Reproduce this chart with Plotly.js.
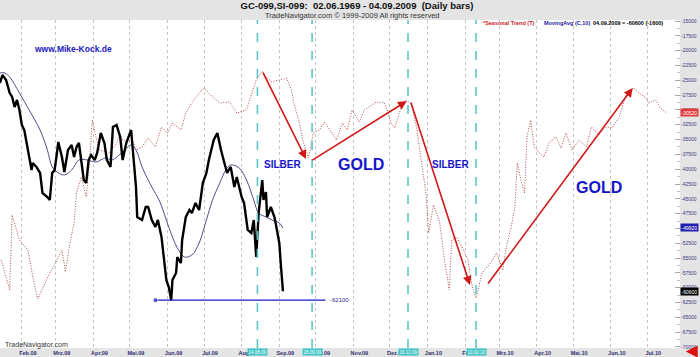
<!DOCTYPE html>
<html>
<head>
<meta charset="utf-8">
<script src="https://cdn.plot.ly/plotly-3.0.1.min.js"></script>
<style>html,body{margin:0;padding:0;background:#e4e4e4;}#chart{width:700px;height:357px;}</style>
</head>
<body>
<div id="chart"></div>
<script>
// ---- data ----
const priceDates = ['2009-01-14','2009-01-16','2009-01-19','2009-01-22','2009-01-24','2009-01-26','2009-01-28','2009-01-30',
'2009-02-01','2009-02-03','2009-02-06','2009-02-09','2009-02-10','2009-02-13','2009-02-16','2009-02-18','2009-02-22','2009-02-24','2009-02-26','2009-02-28',
'2009-03-02','2009-03-03','2009-03-06','2009-03-08','2009-03-11','2009-03-14','2009-03-16','2009-03-18','2009-03-20','2009-03-22','2009-03-24','2009-03-26','2009-03-28','2009-03-30',
'2009-04-02','2009-04-04','2009-04-07','2009-04-10','2009-04-12','2009-04-15','2009-04-17','2009-04-20','2009-04-23','2009-04-25','2009-04-28',
'2009-05-02','2009-05-04','2009-05-06','2009-05-07','2009-05-11','2009-05-14','2009-05-16','2009-05-19','2009-05-22','2009-05-24','2009-05-27','2009-05-31',
'2009-06-02','2009-06-04','2009-06-05','2009-06-08','2009-06-09','2009-06-12','2009-06-13','2009-06-16','2009-06-19','2009-06-21','2009-06-24','2009-06-27','2009-06-30',
'2009-07-03','2009-07-05','2009-07-09','2009-07-12','2009-07-15','2009-07-18','2009-07-20','2009-07-23','2009-07-26','2009-07-28',
'2009-08-01','2009-08-03','2009-08-06','2009-08-09','2009-08-11','2009-08-13','2009-08-15','2009-08-18','2009-08-19','2009-08-21','2009-08-22','2009-08-25','2009-08-28','2009-08-29',
'2009-09-01','2009-09-02','2009-09-04'];
const priceValues = [-25460,-24110,-24950,-27150,-27820,-29510,-28330,-30010,
-32550,-33390,-36760,-40140,-38960,-39630,-40640,-44020,-44690,-45200,-40640,-40140,
-37100,-35410,-37940,-40480,-36760,-35920,-37940,-36260,-35580,-38450,-41830,-42330,-38450,-37610,
-38450,-37270,-33900,-35580,-38450,-39630,-32880,-32550,-34570,-38450,-35580,
-33390,-38450,-43010,-48070,-48570,-46380,-46380,-48570,-49750,-48570,-51440,-58700,
-59880,-62100,-58700,-57520,-54820,-55830,-51950,-48070,-46890,-47390,-45710,-46890,-42330,
-40640,-38450,-35080,-33900,-36760,-38960,-40640,-39630,-43010,-41320,
-44690,-45710,-50260,-50770,-48570,-54820,-47390,-41830,-45200,-43850,-48070,-46380,-48070,-49080,
-52450,-55320,-60600];

const maDates = ['2009-01-14','2009-01-18','2009-01-22','2009-01-30','2009-02-07','2009-02-16','2009-02-22','2009-02-26','2009-03-02','2009-03-08',
'2009-03-14','2009-03-20','2009-03-27','2009-04-03','2009-04-11','2009-04-16','2009-04-25','2009-05-02','2009-05-06','2009-05-11',
'2009-05-19','2009-05-25','2009-05-31','2009-06-05','2009-06-10','2009-06-15','2009-06-21','2009-06-27','2009-07-03','2009-07-08',
'2009-07-14','2009-07-19','2009-07-23','2009-07-30','2009-08-05','2009-08-11','2009-08-15','2009-08-21','2009-08-26','2009-09-01','2009-09-04'];
const maValues = [-23770,-23770,-24450,-27150,-30010,-33390,-36760,-39630,-40480,-40980,
-40140,-38450,-38450,-38790,-38110,-38450,-37100,-35920,-36760,-39630,
-43010,-45200,-48570,-51440,-53630,-54820,-54480,-52450,-48570,-45200,
-42330,-40140,-39290,-39800,-41830,-45200,-47390,-48070,-48570,-49080,-49920];

const seasDates = ['2009-01-15','2009-01-22','2009-01-24','2009-01-30','2009-02-06','2009-02-10','2009-02-14','2009-02-24','2009-03-02','2009-03-06',
'2009-03-09','2009-03-12','2009-03-16','2009-03-18','2009-03-22','2009-03-26','2009-03-29','2009-03-31','2009-04-03','2009-04-06',
'2009-04-14','2009-04-20','2009-04-22','2009-04-28','2009-05-03','2009-05-06','2009-05-11','2009-05-16','2009-05-22','2009-05-27',
'2009-06-01','2009-06-05','2009-06-12','2009-06-16','2009-06-21','2009-06-27','2009-07-01','2009-07-08','2009-07-14','2009-07-22',
'2009-07-28','2009-08-05','2009-08-13','2009-08-18','2009-08-21','2009-08-26','2009-09-01','2009-09-07','2009-09-11','2009-09-13',
'2009-09-17','2009-09-21','2009-09-25','2009-09-29','2009-10-04','2009-10-08','2009-10-14','2009-10-18','2009-10-23','2009-10-27',
'2009-10-31','2009-11-06','2009-11-10','2009-11-16','2009-11-20','2009-11-22','2009-11-26','2009-11-29','2009-12-02','2009-12-05',
'2009-12-07','2009-12-11','2009-12-15','2009-12-19','2009-12-23','2009-12-27','2009-12-31','2010-01-02','2010-01-06','2010-01-11',
'2010-01-15','2010-01-19','2010-01-21','2010-01-25','2010-01-29','2010-02-03','2010-02-07','2010-02-10','2010-02-15','2010-02-22',
'2010-02-27','2010-03-04','2010-03-07','2010-03-11','2010-03-14','2010-03-16','2010-03-19','2010-03-22','2010-03-24','2010-03-27',
'2010-03-30','2010-04-03','2010-04-07','2010-04-11','2010-04-17','2010-04-21','2010-04-25','2010-04-30','2010-05-06','2010-05-12',
'2010-05-16','2010-05-22','2010-05-28','2010-06-02','2010-06-08','2010-06-14','2010-06-20','2010-06-24','2010-06-30','2010-07-02',
'2010-07-08','2010-07-12','2010-07-17'];
const seasValues = [-55320,-60380,-47730,-51950,-53640,-58190,-61900,-57520,-55320,-53640,
-57350,-53130,-49080,-44020,-41320,-44690,-37940,-31700,-34570,-36760,
-37270,-35580,-34570,-35410,-35080,-36760,-36260,-34740,-36260,-32880,
-33900,-32210,-33390,-30520,-28830,-27150,-26300,-27820,-28830,-28670,
-30520,-30010,-24950,-23440,-24450,-25290,-24950,-24620,-26640,-28830,
-31700,-35580,-38110,-33900,-33390,-32040,-33730,-35080,-32210,-33390,
-30010,-32040,-30010,-29170,-28670,-28830,-28670,-30010,-32210,-33050,
-31700,-29170,-28330,-29170,-32880,-38450,-44360,-50770,-46040,-48910,
-55320,-60380,-51950,-51440,-53130,-54990,-59880,-61730,-57520,-55830,
-54140,-57010,-53130,-49750,-46380,-38960,-41830,-44020,-34570,-31700,
-36260,-37270,-37940,-35580,-34570,-36430,-33900,-36760,-35080,-36260,
-32880,-34230,-32880,-33050,-31200,-27150,-26300,-27150,-27990,-28830,
-28330,-29680,-30520];

const monthTicks = ['2009-02-01','2009-03-01','2009-04-01','2009-05-01','2009-06-01','2009-07-01','2009-08-01','2009-09-01','2009-10-01',
'2009-11-01','2009-12-01','2010-01-01','2010-02-01','2010-03-01','2010-04-01','2010-05-01','2010-06-01','2010-07-01'];
const monthLabels = ['Feb.09','Mrz.09','Apr.09','Mai.09','Jun.09','Jul.09','Aug.09','Sep.09','Okt.09',
'Nov.09','Dez.09','Jan.10','Feb.10','Mrz.10','Apr.10','Mai.10','Jun.10','Jul.10'];

const yTickVals = [-15000,-17500,-20000,-22500,-25000,-27500,-30000,-32500,-35000,-37500,-40000,-42500,
-45000,-47500,-50000,-52500,-55000,-57500,-60000,-62500,-65000,-67500,-70000];
const yTickLabels = ['-15000','-17500','-20000','-22500','-25000','-27500','-30000','-32500','-35000','-37500','-40000','-42500',
'-45000','-47500','-50000','-52500','-55000','-57500','-60000','-62500','-65000','-67500','-70000'];

const cycleDates = ['2009-08-14','2009-09-28','2009-12-16','2010-02-10'];

const lowValue = -62100;
const lowStart = '2009-05-22';
const lowEnd = '2009-10-09';

const arrowTailDates = ['2009-08-18','2009-09-27','2009-12-18','2010-02-19'];
const arrowTailValues = [-23440,-38620,-28500,-59540];
const arrowHeadDates = ['2009-09-23','2009-12-15','2010-02-05','2010-06-19'];
const arrowHeadValues = [-38280,-28500,-59540,-26300];

const phaseTexts = ['SILBER','GOLD','SILBER','GOLD'];
const phaseDates = ['2009-09-04','2009-11-07','2010-01-20','2010-05-22'];
const phaseValues = [-39130,-39130,-39130,-43010];

// ---- chart ----
const F = 'Liberation Sans, Arial, sans-serif';
const traces = [
  {x: seasDates, y: seasValues, type:'scatter', mode:'lines', line:{color:'#b04a4a', width:1, dash:'1px,1.6px'}, hoverinfo:'skip'},
  {x: maDates, y: maValues, type:'scatter', mode:'lines', line:{color:'#50508c', width:1, shape:'spline'}, hoverinfo:'skip'},
  {x: priceDates, y: priceValues, type:'scatter', mode:'lines', line:{color:'#000000', width:2.4}, hoverinfo:'skip'},
  {x: [lowStart, lowEnd], y: [lowValue, lowValue], type:'scatter', mode:'lines+markers',
   line:{color:'#1a1acc', width:1.4}, marker:{color:'#1a1acc', size:[5,0]}, hoverinfo:'skip'}
];

const shapes = cycleDates.map(d => ({type:'line', xref:'x', yref:'paper', x0:d, x1:d, y0:0, y1:1,
  line:{color:'#5cc6c6', width:1.6, dash:'dash'}}));

const annotations = [];
// arrows
for (let i = 0; i < arrowTailDates.length; i++) {
  annotations.push({x: arrowHeadDates[i], y: arrowHeadValues[i], ax: arrowTailDates[i], ay: arrowTailValues[i],
    xref:'x', yref:'y', axref:'x', ayref:'y', text:'', showarrow:true, arrowhead:2, arrowsize:1.1,
    arrowwidth:1.6, arrowcolor:'#d01818'});
}
// phase labels
for (let i = 0; i < phaseTexts.length; i++) {
  const big = phaseTexts[i] === 'GOLD';
  annotations.push({x: phaseDates[i], y: phaseValues[i], xref:'x', yref:'y', text: phaseTexts[i], showarrow:false,
    font:{family:F, size: big ? 16 : 10, color:'#1414c8', weight:'bold'}});
}
// cycle date boxes on the time axis
function fmt(d){ const p = d.split('-'); return p[2] + '.' + p[1] + '.' + p[0].slice(2); }
cycleDates.forEach(d => annotations.push({x:d, xref:'x', y:-0.013, yref:'paper', yanchor:'middle', text: fmt(d),
  showarrow:false, bgcolor:'#3ec4c4', borderpad:0.5, font:{family:F, size:4.5, color:'#ffffff'}}));
// low line label
annotations.push({x: lowEnd, y: lowValue, xref:'x', yref:'y', xanchor:'left', xshift:3, text: String(lowValue),
  showarrow:false, font:{family:F, size:6, color:'#2a2a90'}});
// value boxes on right axis
const lastSeas = seasValues[seasValues.length-1];
const lastMa = maValues[maValues.length-1];
const lastPrice = priceValues[priceValues.length-1];
[[lastSeas,'#e03a3a'],[lastMa,'#2020b0'],[lastPrice,'#000000']].forEach(([v,c]) =>
  annotations.push({x:1, xref:'paper', xanchor:'left', y:v, yref:'y', text:String(v), showarrow:false,
    bgcolor:c, borderpad:0.5, font:{family:F, size:5, color:'#ffffff'}}));
// header texts
annotations.push({x:0.5, xref:'paper', y:1.0122, yref:'paper', yanchor:'middle', xshift:12,
  text:'TradeNavigator.com \u00a9 1999-2009 All rights reserved', showarrow:false, font:{family:F, size:7.5, color:'#333333'}});
annotations.push({x:481/680, xref:'paper', xanchor:'left', y:0.991, yref:'paper', yanchor:'middle', text:'*Seasonal Trend (T)',
  showarrow:false, font:{family:F, size:5.5, color:'#cc2020', weight:'bold'}});
annotations.push({x:542/680, xref:'paper', xanchor:'left', y:0.991, yref:'paper', yanchor:'middle', text:'MovingAvg (C,10)',
  showarrow:false, font:{family:F, size:5.5, color:'#1c1c9c', weight:'bold'}});
annotations.push({x:591/680, xref:'paper', xanchor:'left', y:0.991, yref:'paper', yanchor:'middle',
  text:'04.09.2009 = ' + lastPrice + ' (-1600)', showarrow:false, font:{family:F, size:5.5, color:'#000000', weight:'bold'}});
annotations.push({x:32/680, xref:'paper', xanchor:'left', y:(348-49)/328, yref:'paper', yanchor:'middle', text:'www.Mike-Kock.de',
  showarrow:false, font:{family:F, size:8.5, color:'#2020c0', weight:'bold'}});
annotations.push({x:3/680, xref:'paper', xanchor:'left', y:(348-345)/328, yref:'paper', yanchor:'middle', text:'TradeNavigator.com',
  showarrow:false, font:{family:F, size:7, color:'#333333'}});
// red marker arrow bottom right
annotations.push({x:1.0085, xref:'paper', y:-0.011, yref:'paper', ax:12, ay:0, text:'', showarrow:true,
  arrowhead:2, arrowsize:0.8, arrowwidth:3, arrowcolor:'#dd1010'});

const layout = {
  width:700, height:357,
  margin:{l:0, r:20, t:20, b:9, pad:0},
  paper_bgcolor:'#e4e4e4', plot_bgcolor:'#ffffff',
  showlegend:false,
  title:{text:'GC-099,SI-099:\u00a0\u00a002.06.1969 - 04.09.2009\u00a0\u00a0(Daily bars)', x:0.51, xref:'container',
    y:1-6/357, yref:'container', yanchor:'middle', font:{family:F, size:9.5, color:'#111111', weight:'bold'}},
  xaxis:{type:'date', range:['2009-01-14','2010-07-28'], tickvals:monthTicks, ticktext:monthLabels,
    showgrid:true, gridcolor:'#c4c4c4', griddash:'dot', gridwidth:1, zeroline:false, showline:false, ticks:'',
    ticklabelshift:6, tickangle:0,
    tickfont:{family:F, size:5.5, color:'#2e2e6e', weight:'bold'}, fixedrange:true},
  yaxis:{side:'right', range:[-70170,-14830], tickvals:yTickVals, ticktext:yTickLabels,
    showgrid:false, zeroline:false, showline:false, ticks:'inside', ticklen:5, tickcolor:'#a8a8a8',
    minor:{ticks:'inside', ticklen:3, tickcolor:'#c0c0c0', dtick:1250},
    tickfont:{family:F, size:5, color:'#3a3a80'}, fixedrange:true},
  shapes: shapes,
  annotations: annotations
};

Plotly.newPlot('chart', traces, layout, {staticPlot:true, displayModeBar:false});
</script>
</body>
</html>
